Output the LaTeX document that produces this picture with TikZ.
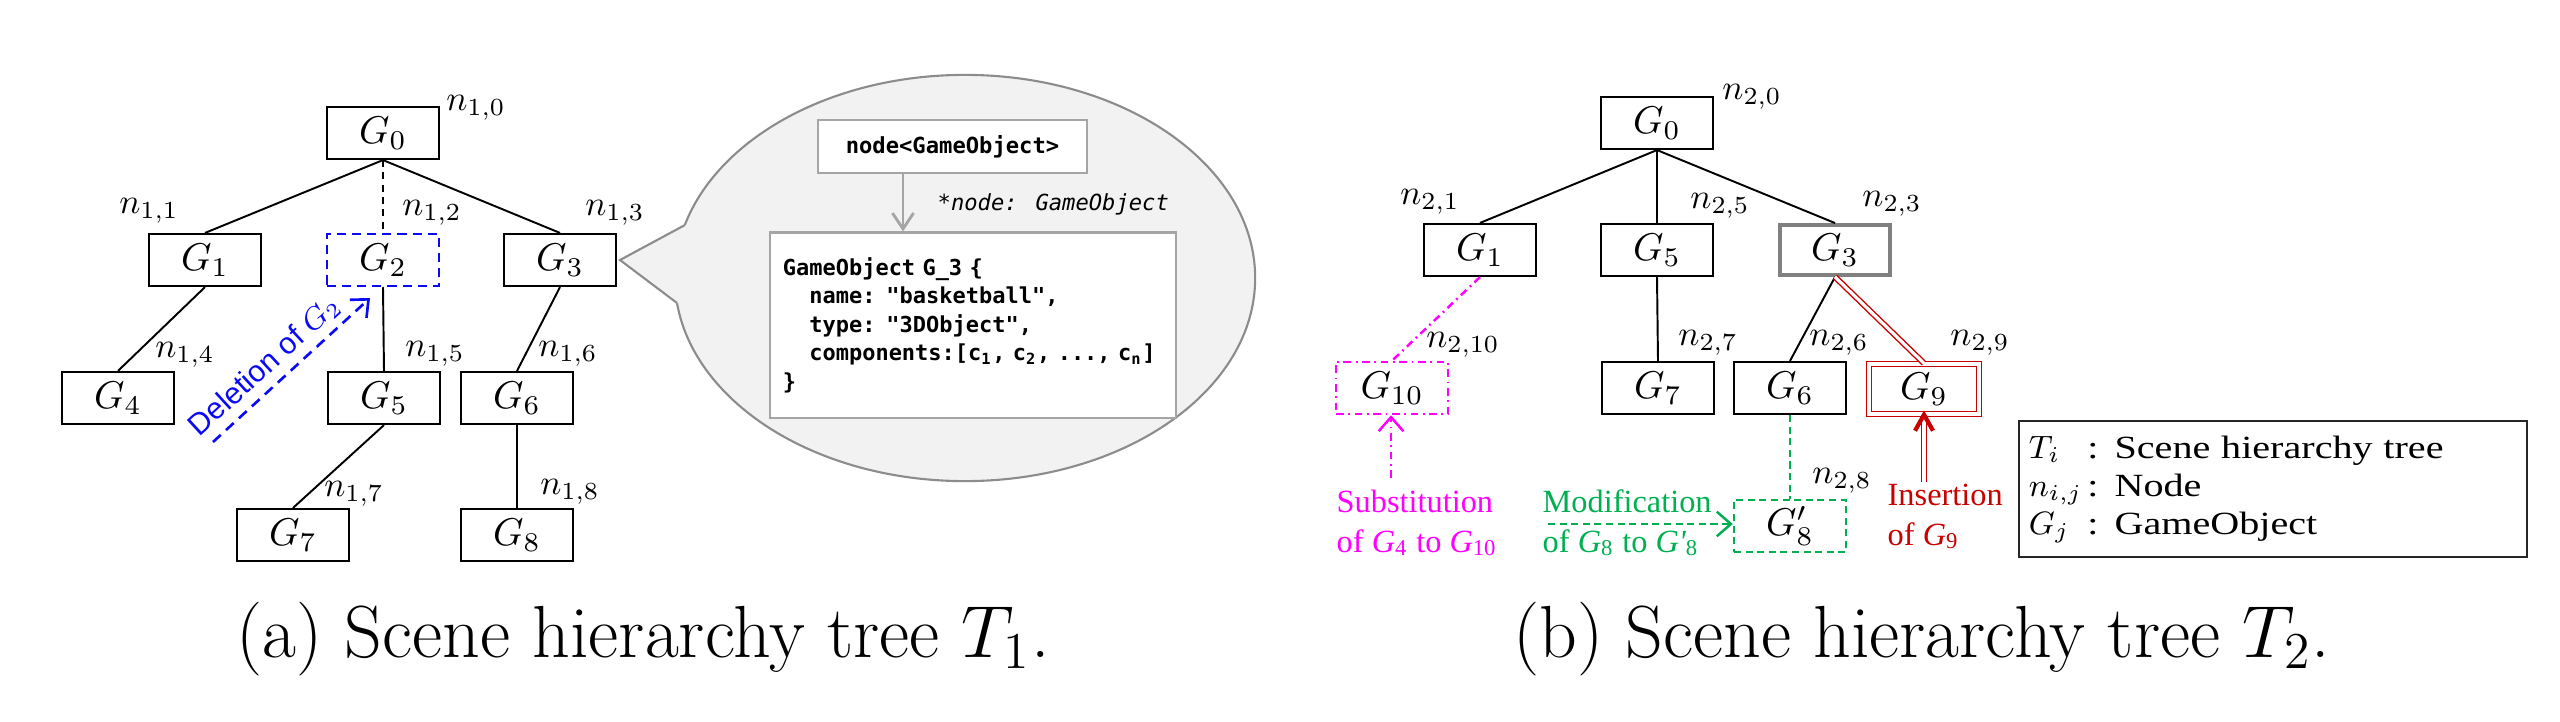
\RequirePackage{fix-cm}
\documentclass[tikz,border=0pt]{standalone}
\usepackage{fontspec}
\usetikzlibrary{arrows.meta}
\newfontfamily\arialf{Liberation Sans}
\newfontfamily\timesf{Liberation Serif}
\newfontfamily\timeswide{Liberation Serif}[FakeStretch=1.24]
\newfontfamily\codef{DejaVu Sans Mono}[Ligatures=TeXOff, BoldFont=DejaVu Sans Mono Bold, ItalicFont=DejaVu Sans Mono Oblique]
\definecolor{myred}{RGB}{200,0,0}
\definecolor{mygreen}{RGB}{0,176,80}
\definecolor{mymag}{RGB}{255,0,255}
\definecolor{myblue}{RGB}{10,10,245}
\definecolor{bubfill}{RGB}{242,242,242}
\definecolor{bubline}{RGB}{140,140,140}
\definecolor{boxline}{RGB}{165,165,165}
\begin{document}
\begin{tikzpicture}[x=0.01cm,y=-0.01cm,
  gbox/.style={draw, line width=0.6pt, minimum width=1.12cm, minimum height=0.52cm, inner sep=0pt, font=\fontsize{11pt}{13pt}\selectfont},
  nlab/.style={inner sep=0pt, font=\fontsize{10pt}{12pt}\selectfont},
  edge/.style={line width=0.55pt},
  tip/.style={-{Straight Barb[length=4pt,width=7pt]}},
  tlab/.style={inner sep=0pt, align=left, anchor=base west, font=\timesf\fontsize{9.2pt}{11.1pt}\selectfont},
  codebox/.style={draw=boxline, fill=white, line width=0.6pt}
]
\useasboundingbox (0,0) rectangle (2560,721);

% ---------- bubble ----------
\fill[bubfill] (965,278) ellipse [x radius=2.9cm, y radius=2.03cm];
\draw[bubline, line width=0.6pt] (965,278) ellipse [x radius=2.9cm, y radius=2.03cm];
\fill[bubfill] (620,260) -- (685,225) -- (720,225) -- (720,303) -- (677,303) -- cycle;
\draw[bubline, line width=0.6pt] (685,225) -- (620,260) -- (677,303);

\node[codebox, minimum width=2.69cm, minimum height=0.53cm, inner sep=0pt,
  font=\fontsize{6.3pt}{8.1pt}\codef\bfseries] (ngo) at (952.5,146.5) {node<GameObject>};
\node[codebox, minimum height=1.85cm, text width=3.8cm, inner xsep=0.13cm, inner ysep=0pt, align=left,
  font=\fontsize{6.25pt}{8.1pt}\codef\bfseries] (code) at (973,325)
  {GameObject G\_3 \{\\
   \phantom{xx}name: "basketball",\\
   \phantom{xx}type: "3DObject",\\
   \phantom{xx}components:[c\textsubscript{1}, c\textsubscript{2}, ..., c\textsubscript{n}]\\
   \}};
\coordinate (ax) at (903,0);
\draw[boxline, line width=0.8pt, -{Straight Barb[length=4.5pt,width=6pt]}] (ngo.south -| ax) -- (code.north -| ax);
\node[inner sep=0pt, anchor=base west, font=\fontsize{6.3pt}{8.1pt}\codef\itshape] (ptr) at (937,210) {*node: GameObject};

% ---------- tree T1 ----------
\node[gbox] (a0) at (383,133) {$G_0$};
\node[gbox] (a1) at (205,260) {$G_1$};
\node[gbox, draw=myblue, line width=0.7pt, dash pattern=on 2.6pt off 1.7pt] (a2) at (383,260) {$G_2$};
\node[gbox] (a3) at (560,260) {$G_3$};
\node[gbox] (a4) at (118,398) {$G_4$};
\node[gbox] (a5) at (384,398) {$G_5$};
\node[gbox] (a6) at (517,398) {$G_6$};
\node[gbox] (a7) at (293,535) {$G_7$};
\node[gbox] (a8) at (517,535) {$G_8$};

\node[nlab] (la0) at (476,108) {$n_{1,0}$};
\node[nlab] (la1) at (149,211) {$n_{1,1}$};
\node[nlab] (la2) at (432,213) {$n_{1,2}$};
\node[nlab] (la3) at (615,213) {$n_{1,3}$};
\node[nlab] (la4) at (185,355) {$n_{1,4}$};
\node[nlab] (la5) at (435,354) {$n_{1,5}$};
\node[nlab] (la6) at (568,354) {$n_{1,6}$};
\node[nlab] (la7) at (354,494) {$n_{1,7}$};
\node[nlab] (la8) at (570,492) {$n_{1,8}$};

\draw[edge] (a0.south) -- (a1.north);
\draw[edge, dash pattern=on 2pt off 1.5pt] (a0.south) -- (a2.north);
\draw[edge] (a0.south) -- (a3.north);
\draw[edge] (a1.south) -- (a4.north);
\draw[edge] (a2.south) -- (a5.north);
\draw[edge] (a3.south) -- (a6.north);
\draw[edge] (a5.south) -- (a7.north);
\draw[edge] (a6.south) -- (a8.north);

\coordinate (delA) at (213,442);
\coordinate (delB) at (370,298);
\draw[myblue, line width=0.75pt, dash pattern=on 3pt off 2pt, tip] (delA) -- (delB)
  node[pos=0.42, sloped, above=1pt, inner sep=1pt, text=myblue, font=\arialf\fontsize{8.6pt}{10pt}\selectfont] (deltxt) {Deletion of $G_2$};

% ---------- tree T2 ----------
\node[gbox] (b0) at (1657,123) {$G_0$};
\node[gbox] (b1) at (1480,250) {$G_1$};
\node[gbox] (b5) at (1657,250) {$G_5$};
\node[gbox, draw=black!50, line width=1.1pt, minimum width=1.1cm, minimum height=0.5cm] (b3) at (1835,250) {$G_3$};
\node[gbox, draw=mymag, line width=0.7pt, dash pattern=on 2.2pt off 1.3pt on 0.5pt off 1.3pt] (b10) at (1392,388) {$G_{10}$};
\node[gbox] (b7) at (1658,388) {$G_7$};
\node[gbox] (b6) at (1790,388) {$G_6$};
\node[gbox, draw=myred, line width=0.4pt, double=white, double distance=0.9pt, minimum width=1.1cm, minimum height=0.5cm] (b9) at (1924,389) {$G_9$};
\node[gbox, draw=mygreen, line width=0.7pt, dash pattern=on 2pt off 1.3pt] (b8) at (1790,526) {$G'_8$};

\node[nlab] (lb0) at (1752,97) {$n_{2,0}$};
\node[nlab] (lb1) at (1430,202) {$n_{2,1}$};
\node[nlab] (lb5) at (1720,206) {$n_{2,5}$};
\node[nlab] (lb3) at (1892,204) {$n_{2,3}$};
\node[nlab] (lb10) at (1463,345) {$n_{2,10}$};
\node[nlab] (lb7) at (1708,343) {$n_{2,7}$};
\node[nlab] (lb6) at (1839,343) {$n_{2,6}$};
\node[nlab] (lb9) at (1980,343) {$n_{2,9}$};
\node[nlab] (lb8) at (1842,481) {$n_{2,8}$};

\draw[edge] (b0.south) -- (b1.north);
\draw[edge] (b0.south) -- (b5.north);
\draw[edge] (b0.south) -- (b3.north);
\draw[mymag, line width=0.7pt, dash pattern=on 2.2pt off 1.3pt on 0.5pt off 1.3pt] (b1.south) -- (b10.north);
\draw[edge] (b5.south) -- (b7.north);
\draw[edge] (b3.south) -- (b6.north);
\draw[myred, line width=0.4pt, double=white, double distance=0.9pt] (b3.south) -- (b9.north);
\draw[mygreen, line width=0.7pt, dash pattern=on 2pt off 1.3pt] (b6.south) -- (b8.north);

% annotations
\coordinate (subA) at (1391,478);
\draw[mymag, line width=0.7pt, dash pattern=on 2.2pt off 1.3pt on 0.5pt off 1.3pt, tip] (subA) -- (subA |- b10.south);
\node[tlab, text=mymag] (subtxt) at (1336,552) {Substitution\\of {\itshape G}\textsubscript{4} to {\itshape G}\textsubscript{10}};

\coordinate (modA) at (1548,524);
\draw[mygreen, line width=0.7pt, dash pattern=on 2pt off 1.3pt, tip] (modA) -- (modA -| b8.west);
\node[tlab, text=mygreen] (modtxt) at (1542,552) {Modification\\of {\itshape G}\textsubscript{8} to {\itshape G\textquotesingle}\textsubscript{8}};

\coordinate (insA) at (1924,482);
\draw[myred, line width=0.4pt, double=white, double distance=0.9pt] (insA) -- (b9.south);
\draw[myred, line width=1.2pt, line join=miter] (b9.south) ++(-9,16) -- (b9.south) -- ++(9,16);
\node[tlab, text=myred] (instxt) at (1887,545) {Insertion\\of {\itshape G}\textsubscript{9}};

% legend
\node[draw=black!85, line width=0.6pt, minimum width=5.08cm, minimum height=1.34cm, text width=4.88cm,
  inner xsep=0.1cm, align=left, font=\timeswide\fontsize{9.2pt}{10.7pt}\selectfont] (legend) at (2273,489)
  {\begin{tabular}{@{}l@{\hspace{0.05cm}}l@{}}
   $T_i$ & : Scene hierarchy tree\\
   $n_{i,j}$ & : Node\\
   $G_j$ & : GameObject
   \end{tabular}};

% captions
\node[anchor=base, inner sep=0pt, font=\fontsize{21pt}{25pt}\selectfont] (capa) at (643,657) {(a) Scene hierarchy tree $T_1$.};
\node[anchor=base, inner sep=0pt, font=\fontsize{21pt}{25pt}\selectfont] (capb) at (1922,657) {(b) Scene hierarchy tree $T_2$.};
\end{tikzpicture}
\end{document}
